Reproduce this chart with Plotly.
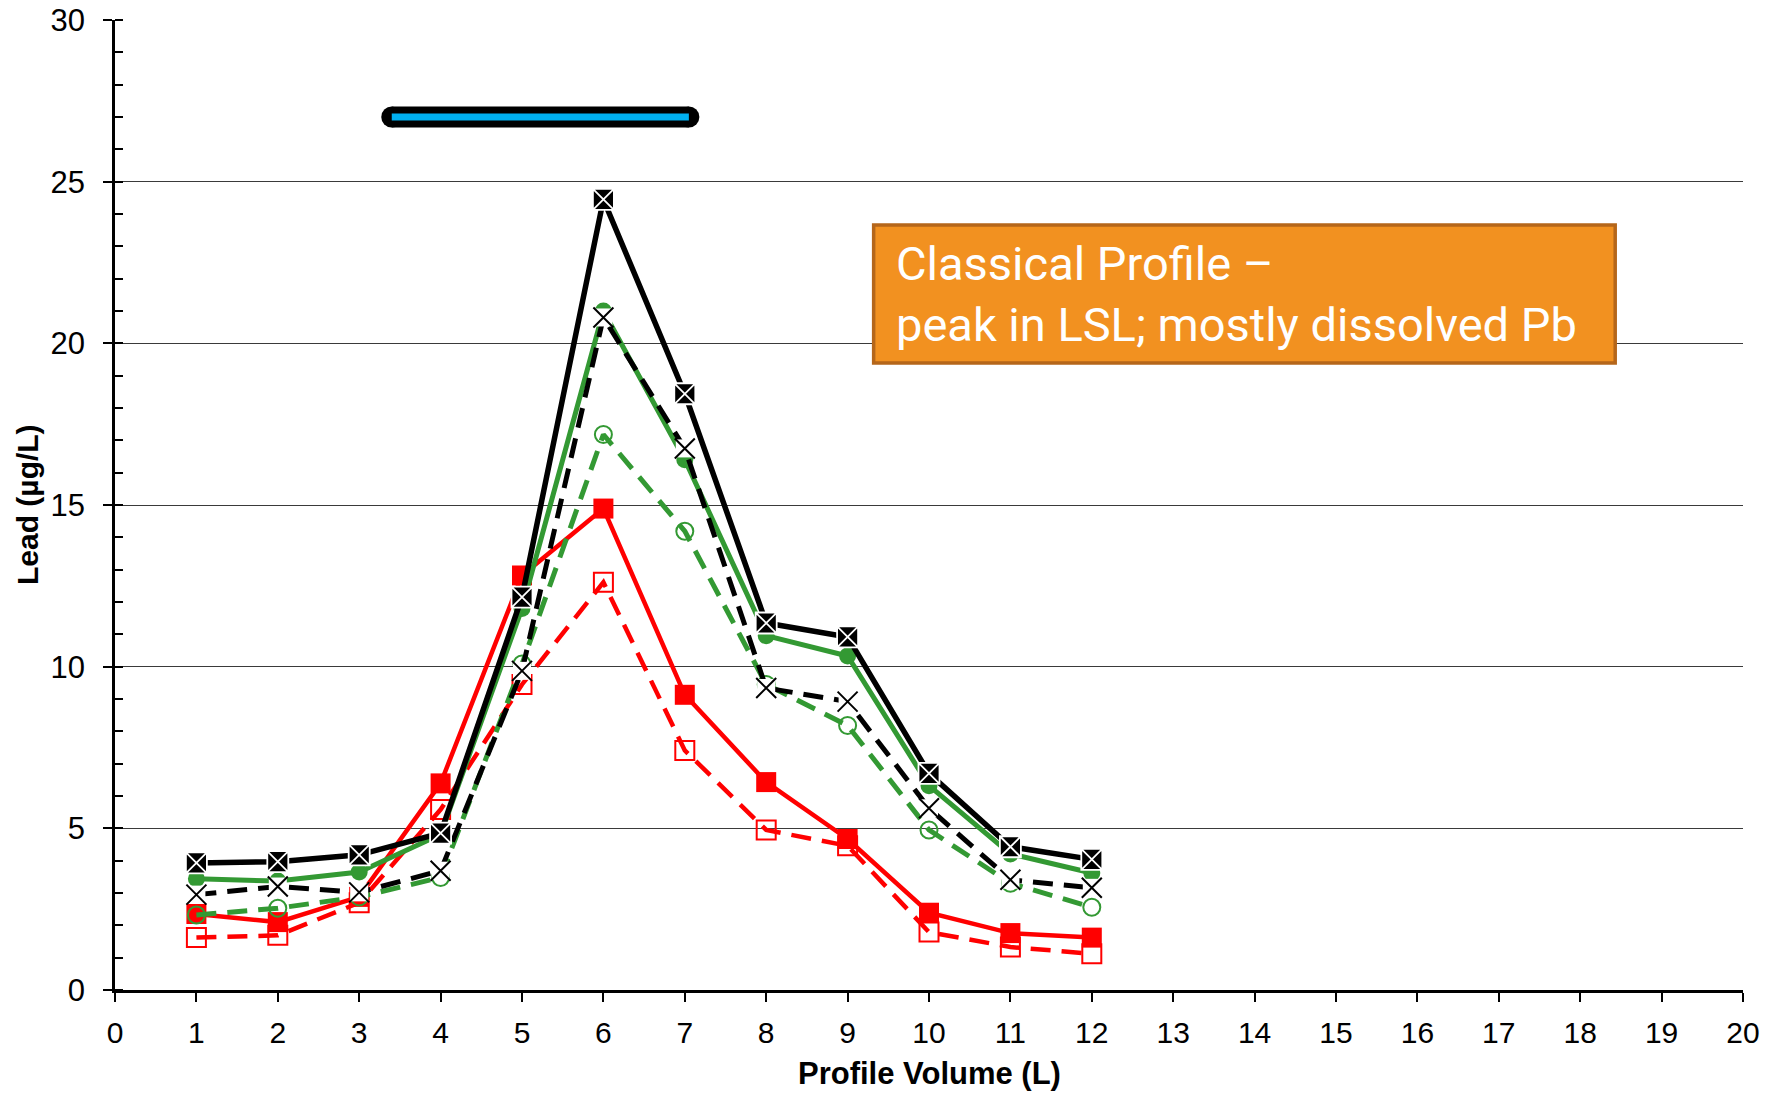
import plotly.graph_objects as go

volume = [1, 2, 3, 4, 5, 6, 7, 8, 9, 10, 11, 12]

black_solid = [3.93, 3.97, 4.18, 4.85, 12.15, 24.45, 18.44, 11.35, 10.92, 6.70, 4.43, 4.04]
black_dashed = [2.95, 3.20, 3.02, 3.69, 9.87, 20.80, 16.75, 9.34, 8.92, 5.62, 3.41, 3.16]
green_solid = [3.44, 3.37, 3.65, 4.81, 11.80, 21.00, 16.40, 10.96, 10.33, 6.32, 4.21, 3.62]
green_dashed = [2.32, 2.53, 2.88, 3.48, 10.08, 17.18, 14.19, 9.45, 8.18, 4.95, 3.30, 2.56]
red_solid = [2.35, 2.10, 2.88, 6.39, 12.82, 14.89, 9.13, 6.43, 4.67, 2.39, 1.76, 1.62]
red_dashed = [1.62, 1.69, 2.70, 5.58, 9.45, 12.61, 7.41, 4.95, 4.46, 1.79, 1.33, 1.12]

lsl_x = [3.4, 7.05]
lsl_y = [27, 27]

x_ticks = list(range(0, 21))
y_ticks = [0, 5, 10, 15, 20, 25, 30]

box_x = [9.32, 18.43]
box_y = [19.39, 23.66]
box_text = "Classical Profile \u2013<br>peak in LSL; mostly dissolved Pb"

x_title = "<b>Profile Volume (L)</b>"
y_title = "<b>Lead (\u00b5g/L)</b>"

BLACK = "#000000"
GREEN = "#339933"
RED = "#FF0000"
BLUE = "#00B0F0"

fig = go.Figure()

# LSL bar
fig.add_trace(go.Scatter(x=lsl_x, y=lsl_y, mode="lines+markers",
                         line=dict(color=BLACK, width=21),
                         marker=dict(symbol="circle", size=21, color=BLACK, line=dict(width=0)),
                         hoverinfo="skip", showlegend=False))
fig.add_trace(go.Scatter(x=lsl_x, y=lsl_y, mode="lines",
                         line=dict(color=BLUE, width=7),
                         hoverinfo="skip", showlegend=False))

DASH = "20px,11px"

# red dashed, open squares
fig.add_trace(go.Scatter(x=volume, y=red_dashed, mode="lines+markers",
                         line=dict(color=RED, width=4.5, dash=DASH),
                         marker=dict(symbol="square-open", size=19, color=RED,
                                     line=dict(color=RED, width=2)),
                         showlegend=False))
# red solid, filled squares
fig.add_trace(go.Scatter(x=volume, y=red_solid, mode="lines+markers",
                         line=dict(color=RED, width=4.5),
                         marker=dict(symbol="square", size=20, color=RED,
                                     line=dict(width=0)),
                         showlegend=False))
# green dashed, open circles
fig.add_trace(go.Scatter(x=volume, y=green_dashed, mode="lines+markers",
                         line=dict(color=GREEN, width=5, dash=DASH),
                         marker=dict(symbol="circle-open", size=17, color=GREEN,
                                     line=dict(color=GREEN, width=2)),
                         showlegend=False))
# green solid, filled circles
fig.add_trace(go.Scatter(x=volume, y=green_solid, mode="lines+markers",
                         line=dict(color=GREEN, width=5),
                         marker=dict(symbol="circle", size=17, color=GREEN,
                                     line=dict(width=0)),
                         showlegend=False))
# black dashed, X markers (with white backing)
fig.add_trace(go.Scatter(x=volume, y=black_dashed, mode="lines",
                         line=dict(color=BLACK, width=5, dash=DASH),
                         showlegend=False))
fig.add_trace(go.Scatter(x=volume, y=black_dashed, mode="markers",
                         marker=dict(symbol="square", size=18, color="white",
                                     line=dict(width=0)),
                         hoverinfo="skip", showlegend=False))
fig.add_trace(go.Scatter(x=volume, y=black_dashed, mode="markers",
                         marker=dict(symbol="x-thin-open", size=20, color=BLACK,
                                     line=dict(color=BLACK, width=2)),
                         showlegend=False))
# black solid, filled squares with white X
fig.add_trace(go.Scatter(x=volume, y=black_solid, mode="lines+markers",
                         line=dict(color=BLACK, width=5.5),
                         marker=dict(symbol="square-x", size=21, color=BLACK,
                                     line=dict(color="white", width=1.8)),
                         showlegend=False))

# text box
fig.add_shape(type="rect", xref="x", yref="y",
              x0=box_x[0], x1=box_x[1], y0=box_y[0], y1=box_y[1],
              fillcolor="#F29120", line=dict(color="#B5661A", width=3.5), layer="above")
fig.add_annotation(x=box_x[0] + 0.25, y=(box_y[0] + box_y[1]) / 2, xref="x", yref="y",
                   text=box_text, showarrow=False, xanchor="left", yanchor="middle",
                   align="left",
                   font=dict(family="Roboto, sans-serif", size=47, color="white"))

# axis titles
fig.add_annotation(x=0.5, y=0, xref="paper", yref="paper", text=x_title,
                   showarrow=False, xanchor="center", yanchor="middle", yshift=-83,
                   font=dict(family="Liberation Sans, Arial, sans-serif", size=31, color=BLACK))
fig.add_annotation(x=0, y=0.5, xref="paper", yref="paper", text=y_title,
                   showarrow=False, xanchor="center", yanchor="middle", xshift=-88,
                   textangle=-90,
                   font=dict(family="Liberation Sans, Arial, sans-serif", size=30, color=BLACK))

fig.update_layout(
    width=1780, height=1094,
    margin=dict(l=115, r=37, t=20, b=104),
    paper_bgcolor="white", plot_bgcolor="white",
    font=dict(family="Liberation Sans, Arial, sans-serif", color=BLACK),
    showlegend=False,
)

fig.update_xaxes(
    range=[0, 20], tickvals=x_ticks, ticktext=[str(v) for v in x_ticks],
    showgrid=False, zeroline=False, automargin=False,
    showline=True, linecolor=BLACK, linewidth=2.5,
    ticks="outside", ticklen=9, tickwidth=1.5, tickcolor=BLACK,
    ticklabelstandoff=5,
    tickfont=dict(family="Liberation Sans, Arial, sans-serif", size=30),
)
fig.update_yaxes(
    range=[0, 30], tickvals=y_ticks, ticktext=[str(v) for v in y_ticks],
    showgrid=True, gridcolor="#3a3a3a", gridwidth=1, zeroline=False, automargin=False,
    showline=True, linecolor=BLACK, linewidth=2.5,
    ticks="outside", ticklen=9, tickwidth=1.5, tickcolor=BLACK,
    ticklabelstandoff=12,
    minor=dict(dtick=1, ticks="inside", ticklen=8, tickwidth=1.5, tickcolor=BLACK, showgrid=False),
    tickfont=dict(family="Liberation Sans, Arial, sans-serif", size=31),
)

fig.write_html("out.html")
